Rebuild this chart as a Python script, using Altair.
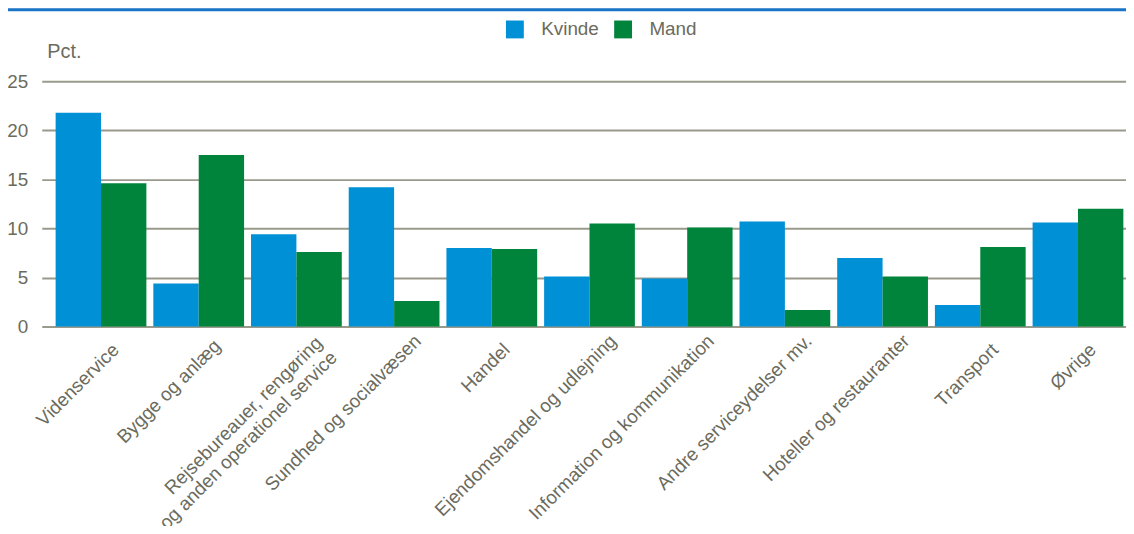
import altair as alt
import pandas as pd

categories = [
    "Videnservice",
    "Bygge og anlæg",
    "Rejsebureauer, rengøring|og anden operationel service",
    "Sundhed og socialvæsen",
    "Handel",
    "Ejendomshandel og udlejning",
    "Information og kommunikation",
    "Andre serviceydelser mv.",
    "Hoteller og restauranter",
    "Transport",
    "Øvrige",
]
kvinde = [21.8, 4.4, 9.4, 14.2, 8.0, 5.1, 4.9, 10.7, 7.0, 2.2, 10.6]
mand = [14.6, 17.5, 7.6, 2.6, 7.9, 10.5, 10.1, 1.7, 5.1, 8.1, 12.0]
series = ["Kvinde", "Mand"]
colors = ["#0090d6", "#00843c"]
y_ticks = [0, 5, 10, 15, 20, 25]

rows = []
for c, k, m in zip(categories, kvinde, mand):
    rows.append({"cat": c, "sex": "Kvinde", "value": k})
    rows.append({"cat": c, "sex": "Mand", "value": m})
df = pd.DataFrame(rows)

FONT = "Liberation Sans"
TXT = "#6b6b5d"
W, H = 1092, 247

MULTI = "indexof(datum.value, '|') >= 0"
LONG = "length(datum.value) >= 20"
MID = "length(datum.value) >= 13"

bars = alt.Chart(df).mark_bar().encode(
    x=alt.X(
        "cat:N",
        sort=categories,
        scale=alt.Scale(paddingInner=0.071, paddingOuter=0.0845, align=0.84),
        axis=alt.Axis(
            title=None,
            labelAngle=-45,
            labelAlign="right",
            labelBaseline="middle",
            labelExpr="split(datum.label, '|')",
            labelFontSize=19,
            labelColor=TXT,
            labelFont=FONT,
            labelPadding={
                "condition": [
                    {"test": MULTI, "value": 13},
                    {"test": LONG, "value": 11},
                    {"test": MID, "value": 16},
                ],
                "value": 20,
            },
            labelOffset={
                "condition": [
                    {"test": MULTI, "value": 23},
                    {"test": LONG, "value": 24},
                    {"test": MID, "value": 19},
                ],
                "value": 15,
            },
            labelLimit=400,
            labelLineHeight=21,
            ticks=False,
            domain=False,
            grid=False,
        ),
    ),
    xOffset=alt.XOffset("sex:N", sort=series, scale=alt.Scale(paddingInner=0, paddingOuter=0)),
    y=alt.Y(
        "value:Q",
        scale=alt.Scale(domain=[0, 25], nice=False),
        axis=alt.Axis(
            values=y_ticks,
            title="Pct.",
            titleAngle=0,
            titleAlign="left",
            titleBaseline="alphabetic",
            titleX=5,
            titleY=-24,
            titleFontSize=20,
            titleFontWeight="normal",
            titleColor=TXT,
            titleFont=FONT,
            labelFontSize=19,
            labelColor=TXT,
            labelFont=FONT,
            labelPadding=14,
            ticks=False,
            domain=False,
            grid=True,
            gridColor="#9a9a8c",
            gridWidth=2,
        ),
    ),
    color=alt.Color(
        "sex:N",
        sort=series,
        scale=alt.Scale(domain=series, range=colors),
        legend=alt.Legend(
            title=None,
            orient="none",
            legendX=467,
            legendY=-62,
            direction="horizontal",
            symbolType="square",
            symbolSize=324,
            symbolStrokeWidth=0,
            labelFontSize=19,
            labelColor=TXT,
            labelFont=FONT,
            labelOffset=17,
            columnPadding=14,
        ),
    ),
)

topline = alt.Chart(alt.Data(values=[{"a": 1}])).mark_rule(
    color="#1a73c6", strokeWidth=3
).encode(x=alt.value(-34), x2=alt.value(W), y=alt.value(-72))

chart = (
    alt.layer(topline, bars)
    .properties(
        width=W,
        height=H,
        autosize=alt.AutoSizeParams(type="none"),
        padding={"left": 34, "top": 72, "right": 0, "bottom": 199},
    )
    .configure_view(stroke=None)
)

chart.save("out.html", embed_options={"renderer": "svg", "actions": False})
